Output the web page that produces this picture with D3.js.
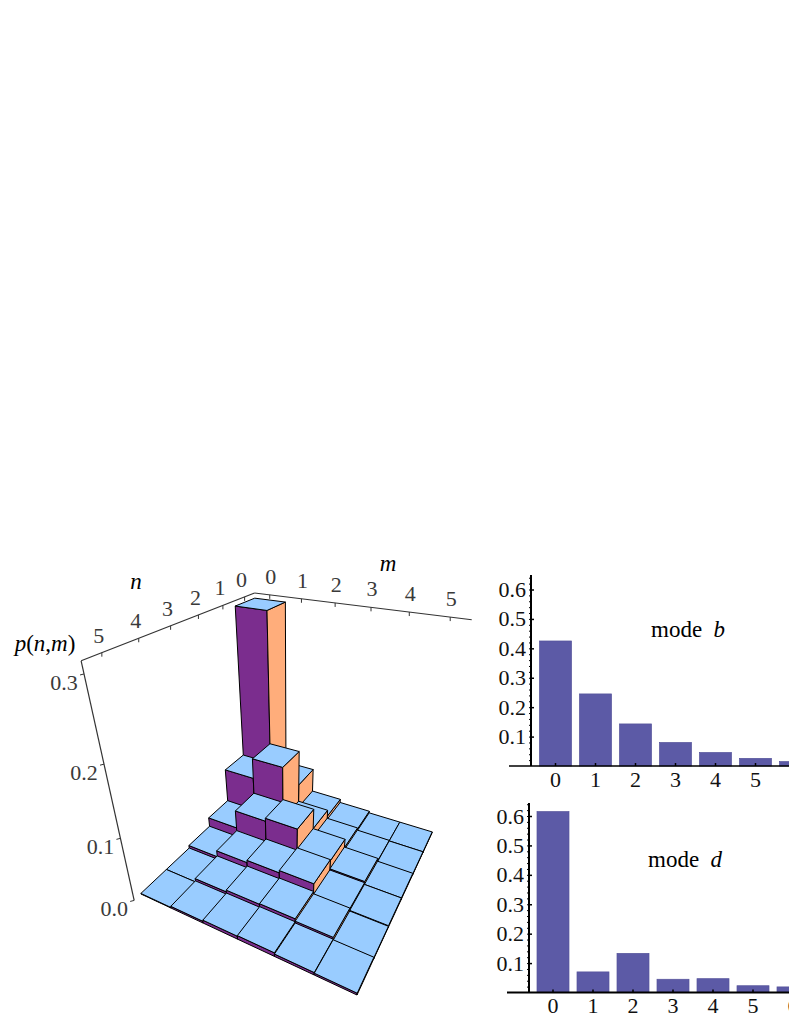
<!DOCTYPE html>
<html>
<head>
<meta charset="utf-8">
<script src="https://cdn.jsdelivr.net/npm/d3@7"></script>
<style>
  html, body { margin: 0; padding: 0; background: #fff; overflow: hidden; }
  text { font-family: "Liberation Serif", serif; }
  .t3d { font-size: 22px; fill: #3a3a3a; text-anchor: middle; }
  .title3d { font-size: 23px; fill: #000; text-anchor: middle; }
  .axis-2d text { font-size: 22px; fill: #111; }
  .axis-2d path, .axis-2d line { stroke: #000; }
</style>
</head>
<body>
<div id="chart"></div>
<script>
const WIDTH = 789;
const HEIGHT = 1021;

// p(n,m): rows are n = 0..5, columns m = 0..5
const nValues = [0, 1, 2, 3, 4, 5];
const mValues = [0, 1, 2, 3, 4, 5];
const pRow0 = [0.306, 0.052, 0.011, 0.005, 0.002, 0.002];
const pRow1 = [0.077, 0.11, 0.022, 0.007, 0.003, 0.002];
const pRow2 = [0.021, 0.051, 0.056, 0.022, 0.008, 0.003];
const pRow3 = [0.0055, 0.016, 0.02, 0.024, 0.006, 0.003];
const pRow4 = [0.001, 0.007, 0.01, 0.011, 0.007, 0.002];
const pRow5 = [0.001, 0.003, 0.005, 0.006, 0.004, 0.003];
const pRows = [pRow0, pRow1, pRow2, pRow3, pRow4, pRow5];
const zTicks = [0, 0.1, 0.2, 0.3];
const zTop = 0.313;
const frameN = 6.25;

// photon number distributions on the right
const modeCategories = [0, 1, 2, 3, 4, 5, 6];
const modeB = [0.425, 0.245, 0.143, 0.08, 0.046, 0.026, 0.015];
const modeD = [0.615, 0.07, 0.133, 0.045, 0.047, 0.023, 0.019];
const modeTicks = [0.1, 0.2, 0.3, 0.4, 0.5, 0.6];
const modeMinorTicks = d3.range(0.02, 0.65, 0.02);

const svg = d3.select("#chart").append("svg")
  .attr("width", WIDTH).attr("height", HEIGHT)
  .style("display", "block");

// --- camera for the 3D histogram: floor corners + vertical vanishing point
const floorBack = [261, 781];
const floorRight = [432, 833];
const floorFront = [357, 995];
const floorLeft = [141, 894];
const vanish = [289, 1600];
const frameBackY = 593;

function quadHomography(p00, p10, p11, p01) {
  // unit square (u,v) -> quad
  const dx1 = p10[0] - p11[0], dx2 = p01[0] - p11[0], sx = p00[0] - p10[0] + p11[0] - p01[0];
  const dy1 = p10[1] - p11[1], dy2 = p01[1] - p11[1], sy = p00[1] - p10[1] + p11[1] - p01[1];
  const det = dx1 * dy2 - dx2 * dy1;
  const g = (sx * dy2 - dx2 * sy) / det;
  const h = (dx1 * sy - sx * dy1) / det;
  return [
    p10[0] - p00[0] + g * p10[0], p01[0] - p00[0] + h * p01[0], p00[0],
    p10[1] - p00[1] + g * p10[1], p01[1] - p00[1] + h * p01[1], p00[1],
    g, h, 1,
  ];
}

// u runs along n (back to left), v along m (back to right)
const H = quadHomography(floorBack, floorLeft, floorFront, floorRight);
const sTop = (frameBackY - floorBack[1]) / (vanish[1] - frameBackY);
const nScale = d3.scaleLinear().domain([0, 6]).range([0, 1]);
const mScale = d3.scaleLinear().domain([0, 6]).range([0, 1]);
const zScale = d3.scaleLinear().domain([0, zTop]).range([0, sTop]);
// the n ticks sit on the box edge, which runs a little past the floor
const nTick = d3.scaleLinear().domain([0, 6]).range([0, frameN]);

function project(n, m, z) {
  const u = nScale(n), v = mScale(m), s = zScale(z);
  const x = H[0] * u + H[1] * v + H[2] + s * vanish[0];
  const y = H[3] * u + H[4] * v + H[5] + s * vanish[1];
  const w = H[6] * u + H[7] * v + H[8] + s;
  return [x / w, y / w];
}

const FACE_PURPLE = "#7b2d8e";
const FACE_ORANGE = "#ffad7b";
const FACE_BLUE = "#99ccff";

const cells = [];
nValues.forEach((n, i) => mValues.forEach((m, j) => cells.push({ n, m, p: pRows[i][j] })));
cells.sort((a, b) => (a.n + a.m) - (b.n + b.m));

const faces = [];
cells.forEach((d) => {
  const { n, m, p } = d;
  faces.push({ fill: FACE_PURPLE, pts: [project(n + 1, m, 0), project(n + 1, m + 1, 0), project(n + 1, m + 1, p), project(n + 1, m, p)] });
  faces.push({ fill: FACE_ORANGE, pts: [project(n, m + 1, 0), project(n + 1, m + 1, 0), project(n + 1, m + 1, p), project(n, m + 1, p)] });
  faces.push({ fill: FACE_BLUE, pts: [project(n, m, p), project(n + 1, m, p), project(n + 1, m + 1, p), project(n, m + 1, p)] });
});

const g3d = svg.append("g").attr("class", "hist3d");

// box edges
const frameLines = [
  [project(frameN, 0, zTop), project(0, 0, zTop)],
  [project(0, 0, zTop), project(0, 6, zTop)],
  [project(frameN, 0, zTop), project(frameN, 0, 0)],
];
g3d.append("g").selectAll("line")
  .data(frameLines)
  .join("line")
  .attr("x1", (d) => d[0][0]).attr("y1", (d) => d[0][1])
  .attr("x2", (d) => d[1][0]).attr("y2", (d) => d[1][1])
  .attr("stroke", "#333").attr("stroke-width", 1.2);

// ticks on the box edges
const tickLen = 4;
const nPos = (d) => project(nTick(d + 0.5), 0, zTop);
const mPos = (d) => project(0, d + 0.5, zTop);
const zPos = (d) => project(frameN, 0, d);

g3d.append("g").selectAll("line")
  .data(mValues)
  .join("line")
  .attr("x1", (d) => mPos(d)[0])
  .attr("y1", (d) => mPos(d)[1])
  .attr("x2", (d) => mPos(d)[0])
  .attr("y2", (d) => mPos(d)[1] + tickLen)
  .attr("stroke", "#333");
g3d.append("g").selectAll("line")
  .data(nValues)
  .join("line")
  .attr("x1", (d) => nPos(d)[0])
  .attr("y1", (d) => nPos(d)[1])
  .attr("x2", (d) => nPos(d)[0])
  .attr("y2", (d) => nPos(d)[1] + tickLen)
  .attr("stroke", "#333");
g3d.append("g").selectAll("line")
  .data(zTicks)
  .join("line")
  .attr("x1", (d) => zPos(d)[0])
  .attr("y1", (d) => zPos(d)[1])
  .attr("x2", (d) => zPos(d)[0] - tickLen)
  .attr("y2", (d) => zPos(d)[1] + 1)
  .attr("stroke", "#333");

// bars, back to front
g3d.append("g").selectAll("polygon")
  .data(faces)
  .join("polygon")
  .attr("points", (d) => d.pts.map((p) => p.join(",")).join(" "))
  .attr("fill", (d) => d.fill)
  .attr("stroke", "#000")
  .attr("stroke-width", 1)
  .attr("stroke-linejoin", "round");

// tick labels
g3d.append("g").selectAll("text")
  .data(mValues)
  .join("text")
  .attr("class", "t3d")
  .attr("x", (d) => mPos(d)[0] + 1)
  .attr("y", (d) => mPos(d)[1] - 11)
  .text((d) => d);
g3d.append("g").selectAll("text")
  .data(nValues)
  .join("text")
  .attr("class", "t3d")
  .attr("x", (d) => nPos(d)[0] - 3)
  .attr("y", (d) => nPos(d)[1] - 10)
  .text((d) => d);
g3d.append("g").selectAll("text")
  .data(zTicks)
  .join("text")
  .attr("class", "t3d")
  .attr("x", (d) => zPos(d)[0] - 20)
  .attr("y", (d) => zPos(d)[1] + 16)
  .text((d) => d.toFixed(1));

const axisTitles = svg.append("g");
axisTitles.append("text").attr("class", "title3d").attr("x", 388).attr("y", 571)
  .style("font-style", "italic").text("m");
axisTitles.append("text").attr("class", "title3d").attr("x", 136).attr("y", 589)
  .style("font-style", "italic").text("n");
const pLabel = axisTitles.append("text").attr("class", "title3d").attr("x", 45).attr("y", 651);
pLabel.append("tspan").style("font-style", "italic").text("p");
pLabel.append("tspan").text("(");
pLabel.append("tspan").style("font-style", "italic").text("n");
pLabel.append("tspan").text(",");
pLabel.append("tspan").style("font-style", "italic").text("m");
pLabel.append("tspan").text(")");

// --- bar panels
function drawModePanel({ values, axisX, baseY, axisTopY, firstBandX, leftEnd, lineWidth, label, labelX, labelY, labelSymbol, tickCats }) {
  const x = d3.scaleBand()
    .domain(modeCategories)
    .range([firstBandX, firstBandX + 40 * modeCategories.length])
    .paddingInner(0.2)
    .paddingOuter(0.1);
  const y = d3.scaleLinear().domain([0, 0.6]).range([baseY, baseY - 176.5]);
  const panel = svg.append("g").attr("class", "axis-2d");

  panel.append("g").selectAll("rect")
    .data(values)
    .join("rect")
    .attr("x", (_, i) => x(modeCategories[i]))
    .attr("y", (d) => y(d))
    .attr("width", x.bandwidth())
    .attr("height", (d) => baseY - y(d))
    .attr("fill", "#5c5aa6")
    .attr("stroke", "#55539a")
    .attr("stroke-width", 0.7);

  // dense minor ticks make the axis look dotted on its left side
  const minor = panel.append("g")
    .attr("transform", `translate(${axisX},0)`)
    .call(d3.axisLeft(y).tickValues(modeMinorTicks).tickSize(2).tickFormat(""));
  minor.select(".domain").remove();

  const yAxis = panel.append("g")
    .attr("transform", `translate(${axisX},0)`)
    .call(d3.axisLeft(y).tickValues(modeTicks).tickSize(-3).tickPadding(5).tickFormat(d3.format(".1f")));
  yAxis.select(".domain").remove();
  yAxis.selectAll("line").attr("stroke-width", 1.5);
  panel.append("line")
    .attr("x1", axisX).attr("x2", axisX)
    .attr("y1", axisTopY).attr("y2", baseY)
    .attr("stroke", "#000").attr("stroke-width", 2);

  const xAxis = panel.append("g")
    .attr("transform", `translate(0,${baseY})`)
    .call(d3.axisBottom(x).tickValues(tickCats).tickSize(-3).tickPadding(5));
  xAxis.select(".domain").remove();
  xAxis.selectAll("line").attr("stroke-width", 1.5);
  panel.append("line")
    .attr("x1", leftEnd).attr("x2", WIDTH)
    .attr("y1", baseY).attr("y2", baseY)
    .attr("stroke", "#000").attr("stroke-width", lineWidth);

  const t = panel.append("text").attr("x", labelX).attr("y", labelY)
    .style("font-size", "23px").style("fill", "#000");
  t.append("tspan").text(label + "\u00a0\u00a0");
  t.append("tspan").style("font-style", "italic").text(labelSymbol);
}

drawModePanel({
  values: modeB, axisX: 531, baseY: 766, axisTopY: 575, firstBandX: 535.5, leftEnd: 509, lineWidth: 1.6,
  label: "mode", labelX: 651, labelY: 637, labelSymbol: "b", tickCats: [0, 1, 2, 3, 4, 5],
});
drawModePanel({
  values: modeD, axisX: 529, baseY: 992.5, axisTopY: 803, firstBandX: 533, leftEnd: 507, lineWidth: 2.2,
  label: "mode", labelX: 648, labelY: 867, labelSymbol: "d", tickCats: [0, 1, 2, 3, 4, 5, 6],
});
</script>
</body>
</html>
